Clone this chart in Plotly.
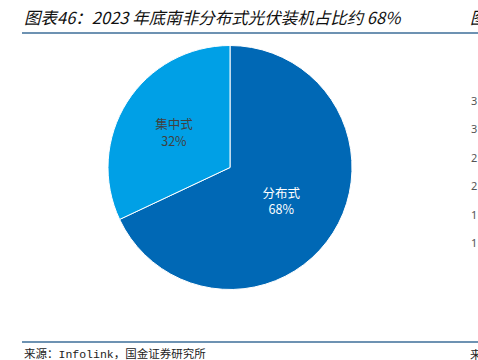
import plotly.graph_objects as go

labels = ["分布式", "集中式"]
values = [68, 32]
colors = ["#0068B5", "#00A0E6"]
text_colors = ["#FFFFFF", "#404040"]

title_text = "图表46：2023 年底南非分布式光伏装机占比约 68%"
source_text = "来源：Infolink，国金证券研究所"
right_ticks = ["3", "3", "2", "2", "1", "1"]

W, H = 478, 360

fig = go.Figure()
fig.add_trace(go.Pie(
    labels=labels, values=values, sort=False, direction="clockwise", rotation=0,
    marker=dict(colors=colors, line=dict(color="#FFFFFF", width=1)),
    textinfo="label+percent", texttemplate="%{label}<br>%{percent:.0%}",
    textposition="inside", insidetextorientation="horizontal",
    textfont=dict(color=text_colors, size=12.5, family="Noto Sans CJK SC"),
    hoverinfo="skip", showlegend=False,
    domain=dict(x=[108 / W, 352 / W], y=[(H - 291) / H, (H - 44) / H]),
))

shapes = [
    dict(type="line", xref="paper", yref="paper", x0=22 / W, x1=1, y0=(H - 33) / H, y1=(H - 33) / H,
         line=dict(color="#3D6E99", width=1.5)),
    dict(type="line", xref="paper", yref="paper", x0=22 / W, x1=1, y0=(H - 342) / H, y1=(H - 342) / H,
         line=dict(color="#3D6E99", width=1.5)),
]
annotations = [
    dict(text=title_text, x=22 / W, y=(H - 17) / H, xref="paper", yref="paper", xanchor="left", yanchor="middle",
         showarrow=False, font=dict(size=16.5, color="#111111", family="Noto Sans CJK SC", style="italic")),
    dict(text="图", x=468 / W, y=(H - 17) / H, xref="paper", yref="paper", xanchor="left", yanchor="middle",
         showarrow=False, font=dict(size=16.5, color="#111111", family="Noto Sans CJK SC", style="italic")),
    dict(text=source_text, x=22 / W, y=(H - 354) / H, xref="paper", yref="paper", xanchor="left", yanchor="middle",
         showarrow=False, font=dict(size=11.5, color="#222222", family="Liberation Mono, Noto Sans CJK SC")),
    dict(text="来", x=468 / W, y=(H - 354) / H, xref="paper", yref="paper", xanchor="left", yanchor="middle",
         showarrow=False, font=dict(size=11.5, color="#222222", family="Noto Sans CJK SC")),
]
tick_y = [100, 129, 157, 186, 214, 242]
for t, yy in zip(right_ticks, tick_y):
    annotations.append(dict(text=t, x=469 / W, y=(H - yy) / H, xref="paper", yref="paper", xanchor="left",
                            yanchor="middle", showarrow=False,
                            font=dict(size=11, color="#555555", family="Noto Sans")))

fig.update_layout(
    width=W, height=H, margin=dict(l=0, r=0, t=0, b=0),
    paper_bgcolor="#FFFFFF", plot_bgcolor="#FFFFFF",
    shapes=shapes, annotations=annotations,
)
fig.write_html("out.html", config={"displayModeBar": False},
               post_script="document.body.style.margin='0';document.body.style.overflow='hidden';")
